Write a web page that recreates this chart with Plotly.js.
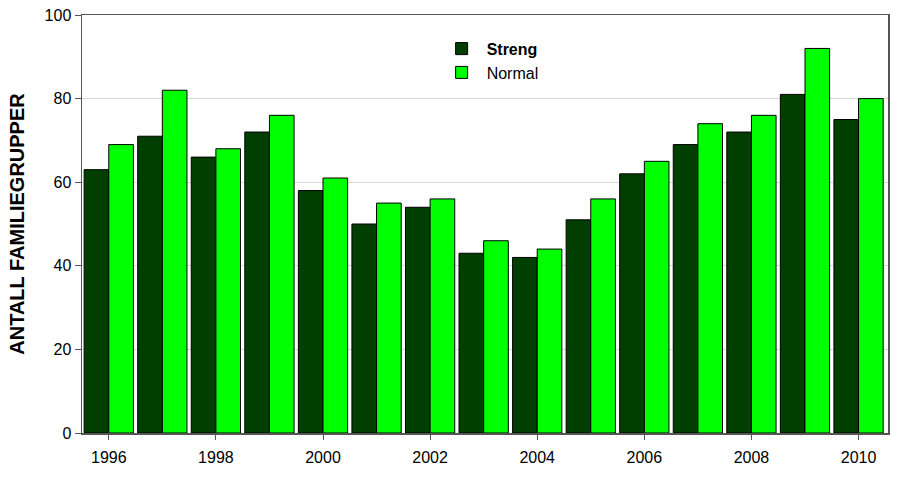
<!DOCTYPE html>
<html>
<head>
<meta charset="utf-8">
<script src="https://cdn.plot.ly/plotly-3.0.1.min.js"></script>
<style>
  body { margin: 0; background: #fff; }
  #chart { width: 920px; height: 482px; }
</style>
</head>
<body>
<div id="chart"></div>
<script>
// years and group counts
var years = [1996, 1997, 1998, 1999, 2000, 2001, 2002, 2003, 2004, 2005, 2006, 2007, 2008, 2009, 2010];
var streng = [63, 71, 66, 72, 58, 50, 54, 43, 42, 51, 62, 69, 72, 81, 75];
var normal = [69, 82, 68, 76, 61, 55, 56, 46, 44, 56, 65, 74, 76, 92, 80];

var traceStreng = {
  x: years,
  y: streng,
  name: "<b>Streng</b>",
  type: "bar",
  marker: { color: "#003f00", line: { color: "#000", width: 1 } }
};
var traceNormal = {
  x: years,
  y: normal,
  name: "Normal",
  type: "bar",
  marker: { color: "#00ff00", line: { color: "#000", width: 1 } }
};

var layout = {
  width: 920,
  height: 482,
  margin: { l: 82, r: 32, t: 15, b: 49 },
  paper_bgcolor: "#fff",
  plot_bgcolor: "#fff",
  font: { family: "Liberation Sans, Arial, sans-serif", size: 16, color: "#000" },
  barmode: "group",
  bargap: 0.08,
  bargroupgap: 0,
  showlegend: true,
  legend: {
    x: 0.44, y: 0.96, xanchor: "left", yanchor: "top",
    bgcolor: "rgba(0,0,0,0)",
    font: { size: 16 },
    tracegroupgap: 0,
    itemwidth: 40
  },
  xaxis: {
    range: [1995.5, 2010.55],
    tickmode: "linear",
    tick0: 1996,
    dtick: 2,
    ticks: "outside",
    ticklen: 5,
    tickcolor: "#555",
    ticklabelstandoff: 4,
    showgrid: false,
    zeroline: false,
    showline: true,
    linecolor: "#555",
    linewidth: 1.5,
    mirror: true
  },
  yaxis: {
    range: [0, 100],
    tickmode: "linear",
    tick0: 0,
    dtick: 20,
    ticks: "outside",
    ticklen: 6,
    tickcolor: "#555",
    showgrid: true,
    gridcolor: "#d9d9d9",
    zeroline: false,
    showline: true,
    linecolor: "#555",
    linewidth: 1.5,
    mirror: true,
    title: { text: "<b>ANTALL FAMILIEGRUPPER</b>", font: { size: 20 }, standoff: 14 }
  }
};

Plotly.newPlot("chart", [traceStreng, traceNormal], layout, { displayModeBar: false, staticPlot: true });
</script>
</body>
</html>
